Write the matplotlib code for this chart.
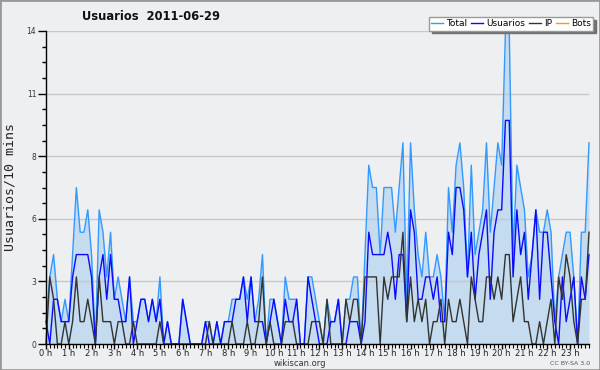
import matplotlib
matplotlib.use('Agg')
import matplotlib.pyplot as plt
import numpy as np
from matplotlib.lines import Line2D
from matplotlib.patches import Rectangle
from matplotlib.ticker import MultipleLocator, FixedLocator

# ---- data (10-minute slots, 2011-06-29) ----
total = [1, 3, 4, 2, 1, 2, 1, 4, 7, 5,
         5, 6, 4, 0, 6, 5, 3, 5, 2, 3,
         2, 1, 3, 1, 1, 2, 2, 1, 2, 1,
         3, 0, 1, 0, 0, 0, 2, 1, 0, 0,
         0, 0, 1, 1, 0, 1, 0, 1, 1, 2,
         2, 2, 3, 2, 3, 1, 2, 4, 0, 2,
         2, 1, 0, 3, 2, 2, 2, 0, 0, 3,
         3, 2, 1, 0, 2, 1, 1, 2, 0, 2,
         2, 3, 3, 0, 4, 8, 7, 7, 4, 7,
         7, 7, 5, 7, 9, 2, 9, 6, 4, 3,
         5, 3, 3, 4, 3, 1, 7, 5, 8, 9,
         7, 3, 8, 4, 5, 6, 9, 5, 7, 9,
         8, 14, 14, 4, 8, 7, 6, 3, 4, 6,
         5, 5, 6, 5, 1, 3, 4, 5, 5, 3,
         0, 5, 5, 9]

usuarios = [1, 0, 2, 2, 1, 1, 1, 3, 4, 4,
            4, 4, 3, 0, 3, 4, 2, 4, 2, 2,
            1, 1, 3, 0, 1, 2, 2, 1, 2, 1,
            2, 0, 1, 0, 0, 0, 2, 1, 0, 0,
            0, 0, 1, 0, 0, 1, 0, 1, 1, 1,
            2, 2, 3, 1, 3, 1, 1, 1, 0, 1,
            2, 1, 0, 2, 1, 1, 2, 0, 0, 3,
            2, 1, 0, 0, 0, 1, 1, 2, 0, 0,
            1, 1, 1, 0, 1, 5, 4, 4, 4, 4,
            5, 4, 2, 4, 4, 1, 6, 5, 2, 2,
            3, 3, 2, 3, 1, 1, 5, 4, 7, 7,
            6, 3, 5, 2, 4, 5, 6, 2, 5, 6,
            6, 10, 10, 3, 6, 4, 5, 2, 4, 6,
            2, 5, 5, 3, 1, 0, 3, 1, 2, 3,
            0, 3, 2, 4]

ip = [0, 3, 2, 0, 0, 1, 0, 1, 3, 1,
      1, 2, 1, 0, 3, 1, 1, 1, 0, 1,
      1, 0, 0, 1, 0, 0, 0, 0, 0, 0,
      1, 0, 0, 0, 0, 0, 0, 0, 0, 0,
      0, 0, 0, 1, 0, 0, 0, 0, 0, 1,
      0, 0, 0, 1, 0, 0, 1, 3, 0, 1,
      0, 0, 0, 1, 1, 1, 0, 0, 0, 0,
      1, 1, 1, 0, 2, 0, 0, 0, 0, 2,
      1, 2, 2, 0, 3, 3, 3, 3, 0, 3,
      2, 3, 3, 3, 5, 1, 3, 1, 2, 1,
      2, 0, 1, 1, 2, 0, 2, 1, 1, 2,
      1, 0, 3, 2, 1, 1, 3, 3, 2, 3,
      2, 4, 4, 1, 2, 3, 1, 1, 0, 0,
      1, 0, 1, 2, 0, 3, 2, 4, 3, 1,
      0, 2, 2, 5]

hour_labels = ["0 h", "1 h", "2 h", "3 h", "4 h", "5 h", "6 h", "7 h",
               "8 h", "9 h", "10 h", "11 h", "12 h", "13 h", "14 h", "15 h",
               "16 h", "17 h", "18 h", "19 h", "20 h", "21 h", "22 h", "23 h"]
y_ticks = [0, 2.8, 5.6, 8.4, 11.2, 14]
y_tick_labels = ["0", "3", "6", "8", "11", "14"]
series_names = ["Total", "Usuarios", "IP", "Bots"]

# ---- style ----
C_TOTAL = '#3399ff'
C_USERS = '#0a0aff'
C_IP = '#333333'
C_BOTS = '#ff9900'
C_FILL = '#c4dbf0'
BG = '#eeeff0'

W, H = 600, 370
fig = plt.figure(figsize=(W / 100, H / 100), dpi=100)
fig.patch.set_facecolor(BG)

ax = fig.add_axes([46 / W, 26 / H, 543 / W, 313 / H])
ax.set_facecolor(BG)

x = np.arange(len(total))
ax.fill_between(x, 0, total, color=C_FILL, lw=0, zorder=1)
ax.plot(x, total, color=C_TOTAL, lw=1, zorder=3, clip_on=False)
ax.plot(x, usuarios, color=C_USERS, lw=1, zorder=4, clip_on=False)
ax.plot(x, ip, color=C_IP, lw=1, zorder=5, clip_on=False)

ax.set_xlim(0, len(total) - 1)
ax.set_ylim(0, 14)

for s in ['top', 'right']:
    ax.spines[s].set_visible(False)
for s in ['left', 'bottom']:
    ax.spines[s].set_color('black')
    ax.spines[s].set_linewidth(1)
    ax.spines[s].set_zorder(6)

ax.yaxis.set_major_locator(FixedLocator(y_ticks))
ax.set_yticklabels(y_tick_labels)
ax.yaxis.set_minor_locator(MultipleLocator(0.7))
ax.tick_params(axis='y', which='major', length=6, width=1, labelsize=5.5,
               colors='black', labelcolor='#333333', pad=1)
ax.tick_params(axis='y', which='minor', length=3, width=1, colors='black')

ax.set_xticks(np.arange(0, 144, 6))
ax.set_xticklabels(hour_labels)
ax.xaxis.set_minor_locator(MultipleLocator(1))
ax.tick_params(axis='x', which='major', length=3.5, width=1, labelsize=6,
               colors='black', labelcolor='#222222', pad=0)
ax.tick_params(axis='x', which='minor', length=3, width=0.8, colors='black')

ax.set_axisbelow('line')
ax.yaxis.grid(True, which='major', color='#c8c8c8', lw=1)

# texts
fig.text(151 / W, 1 - 16.5 / H, "Usuarios  2011-06-29", ha='center', va='center',
         fontsize=8.3, fontweight='bold', color='#111111')
fig.text(10 / W, 1 - 187 / H, "Usuarios/10 mins", rotation=90, ha='center',
         va='center', fontsize=9.5, color='#222222', family='DejaVu Sans Mono')
fig.text(300 / W, 1 - 363.5 / H, "wikiscan.org", ha='center', va='center',
         fontsize=6, color='#333333')
fig.text(590 / W, 1 - 363.5 / H, "CC BY-SA 3.0", ha='right', va='center',
         fontsize=4.5, color='#555555')

# legend
handles = [Line2D([], [], color=C_TOTAL, lw=1),
           Line2D([], [], color=C_USERS, lw=1),
           Line2D([], [], color=C_IP, lw=1),
           Line2D([], [], color=C_BOTS, lw=1)]
leg = fig.legend(handles, series_names, ncol=4, loc='upper right',
                 bbox_to_anchor=(593 / W, 1 - 17 / H), frameon=True, fancybox=False,
                 shadow={'color': '#707070', 'alpha': 1}, fontsize=6.5,
                 handlelength=1.3, handletextpad=0.35, columnspacing=0.45,
                 borderpad=0.25, borderaxespad=0)
leg.get_frame().set_edgecolor('#999999')
leg.get_frame().set_facecolor('white')
leg.get_frame().set_linewidth(1)

fig.add_artist(Rectangle((0, 0), 1, 1, transform=fig.transFigure, fill=False,
                         edgecolor='#999999', lw=2))

fig.savefig('out.png', dpi=100, facecolor=BG)
